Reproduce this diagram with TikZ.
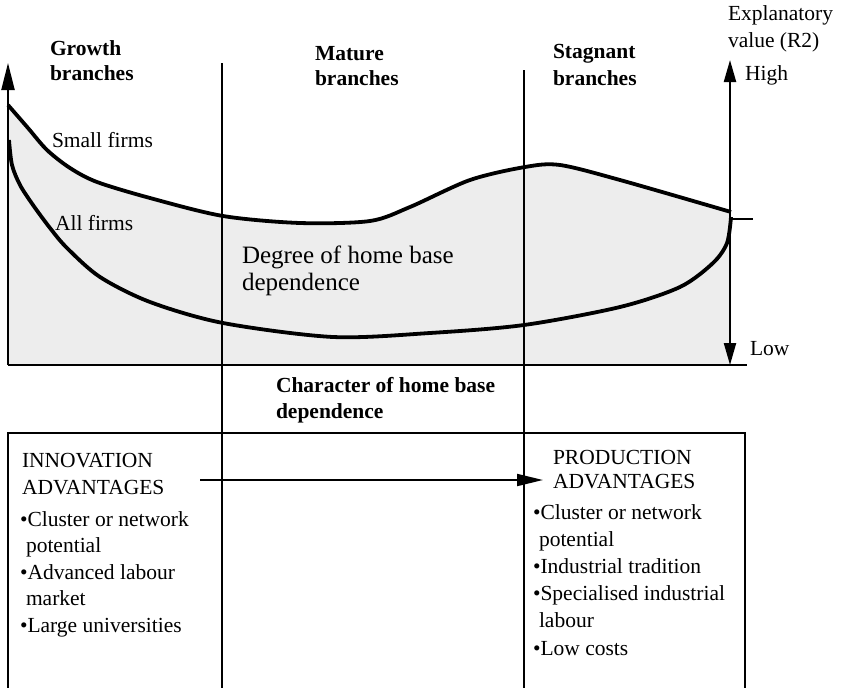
\documentclass[tikz,border=0pt]{standalone}
\usepackage{fontspec}
\setmainfont{Liberation Serif}
\usetikzlibrary{arrows.meta,positioning}

\begin{document}
\begin{tikzpicture}[x=1pt,y=-1pt]
        \tikzstyle{every node}=[inner sep=0pt,outer sep=0pt,anchor=base west,align=left,font=\fontsize{21.5}{26.5}\selectfont]
        \tikzstyle{head}=[font=\fontsize{21.5}{26}\selectfont\bfseries]
        \tikzstyle{axis}=[line width=2.2pt]
        \tikzstyle{divider}=[line width=1.6pt]
        \tikzstyle{curve}=[line width=3.8pt,line join=round]
        \useasboundingbox (0,0) rectangle (841,688);

        %%% Upper part
        \fill[black!7] (8,365) -- plot[smooth,tension=0.5] coordinates {(8,105) (28,128) (47,150) (70,168) (97,182) (150,198) (223,216) (300,223) (370,221) (410,207) (470,180) (525,167) (560,165) (620,180) (731,212)} -- (731,365) -- cycle;

        \coordinate (lefttip) at (8,63);
        \coordinate (origin) at (8,365);
        \coordinate (baseend) at (747,365);
        \coordinate (hightip) at (730,60);
        \coordinate (lowtip) at (730,365);
        \coordinate (tickl) at (730,219);
        \coordinate (tickr) at (753,219);

        \draw[curve] plot[smooth,tension=0.5] coordinates {(8,105) (28,128) (47,150) (70,168) (97,182) (150,198) (223,216) (300,223) (370,221) (410,207) (470,180) (525,167) (560,165) (620,180) (731,212)};
        \draw[curve] plot[smooth,tension=0.5] coordinates {(9,140) (12,165) (20,185) (33,205) (50,228) (67,248) (100,277) (150,302) (223,323) (333,337) (430,333) (524,325) (620,307) (680,287) (713,263) (727,243) (731,217)};

        \node[fill=white,inner sep=2pt] (small) at (50,147) {Small firms};
        \node (all) at (55,230) {All firms};
        \node[font=\fontsize{25}{27}\selectfont] (degree) at (242,290) {Degree of home base\\dependence};

        \draw[axis,-{Triangle[length=27pt,width=13pt]}] (origin) -- (lefttip);
        \draw[axis,{Triangle[length=22pt,width=12pt]}-{Triangle[length=22pt,width=12pt]}] (hightip) -- (lowtip);
        \draw[axis] (origin) -- (baseend);
        \draw[axis] (tickl) -- (tickr);

        \node[head,font=\fontsize{21.5}{25}\selectfont\bfseries] (growth) at (50,80) {Growth\\branches};
        \node[head,font=\fontsize{21.5}{25}\selectfont\bfseries] (mature) at (315,85) {Mature\\branches};
        \node[head,font=\fontsize{21.5}{27}\selectfont\bfseries] (stagnant) at (553,85) {Stagnant\\branches};
        \node[font=\fontsize{21.5}{27}\selectfont] (explan) at (728,47) {Explanatory\\value (R2)};
        \node (high) at (745,80) {High};
        \node (low) at (750,355) {Low};

        %%% Lower part
        \coordinate (d1top) at (222,63);
        \coordinate (d1bot) at (222,688);
        \coordinate (d2top) at (524,70);
        \coordinate (d2bot) at (524,688);
        \draw[divider] (d1top) -- (d1bot);
        \draw[divider] (d2top) -- (d2bot);

        \node[head] (character) at (276,418) {Character of home base\\dependence};

        \coordinate (boxbl) at (8,688);
        \coordinate (boxtl) at (8,433);
        \coordinate (boxtr) at (745,433);
        \coordinate (boxbr) at (745,688);
        \draw[line width=2.2pt] (boxbl) -- (boxtl) -- (boxtr) -- (boxbr);

        \node[font=\fontsize{21.5}{27}\selectfont] (innov) at (22,494) {INNOVATION\\ADVANTAGES};
        \node (innovlist) at (20,632) {•Cluster or network\\\hspace*{6pt}potential\\•Advanced labour\\\hspace*{6pt}market\\•Large universities};
        \node[font=\fontsize{21.5}{24}\selectfont] (prod) at (553,488) {PRODUCTION\\ADVANTAGES};
        \node[font=\fontsize{21.5}{27.2}\selectfont] (prodlist) at (533,655) {•Cluster or network\\\hspace*{6pt}potential\\•Industrial tradition\\•Specialised industrial\\\hspace*{6pt}labour\\•Low costs};

        \coordinate (arrstart) at (200,480);
        \coordinate (arrend) at (543,480);
        \draw[line width=2pt,-{Triangle[length=26pt,width=12pt]}] (arrstart) -- (arrend);
\end{tikzpicture}
\end{document}
